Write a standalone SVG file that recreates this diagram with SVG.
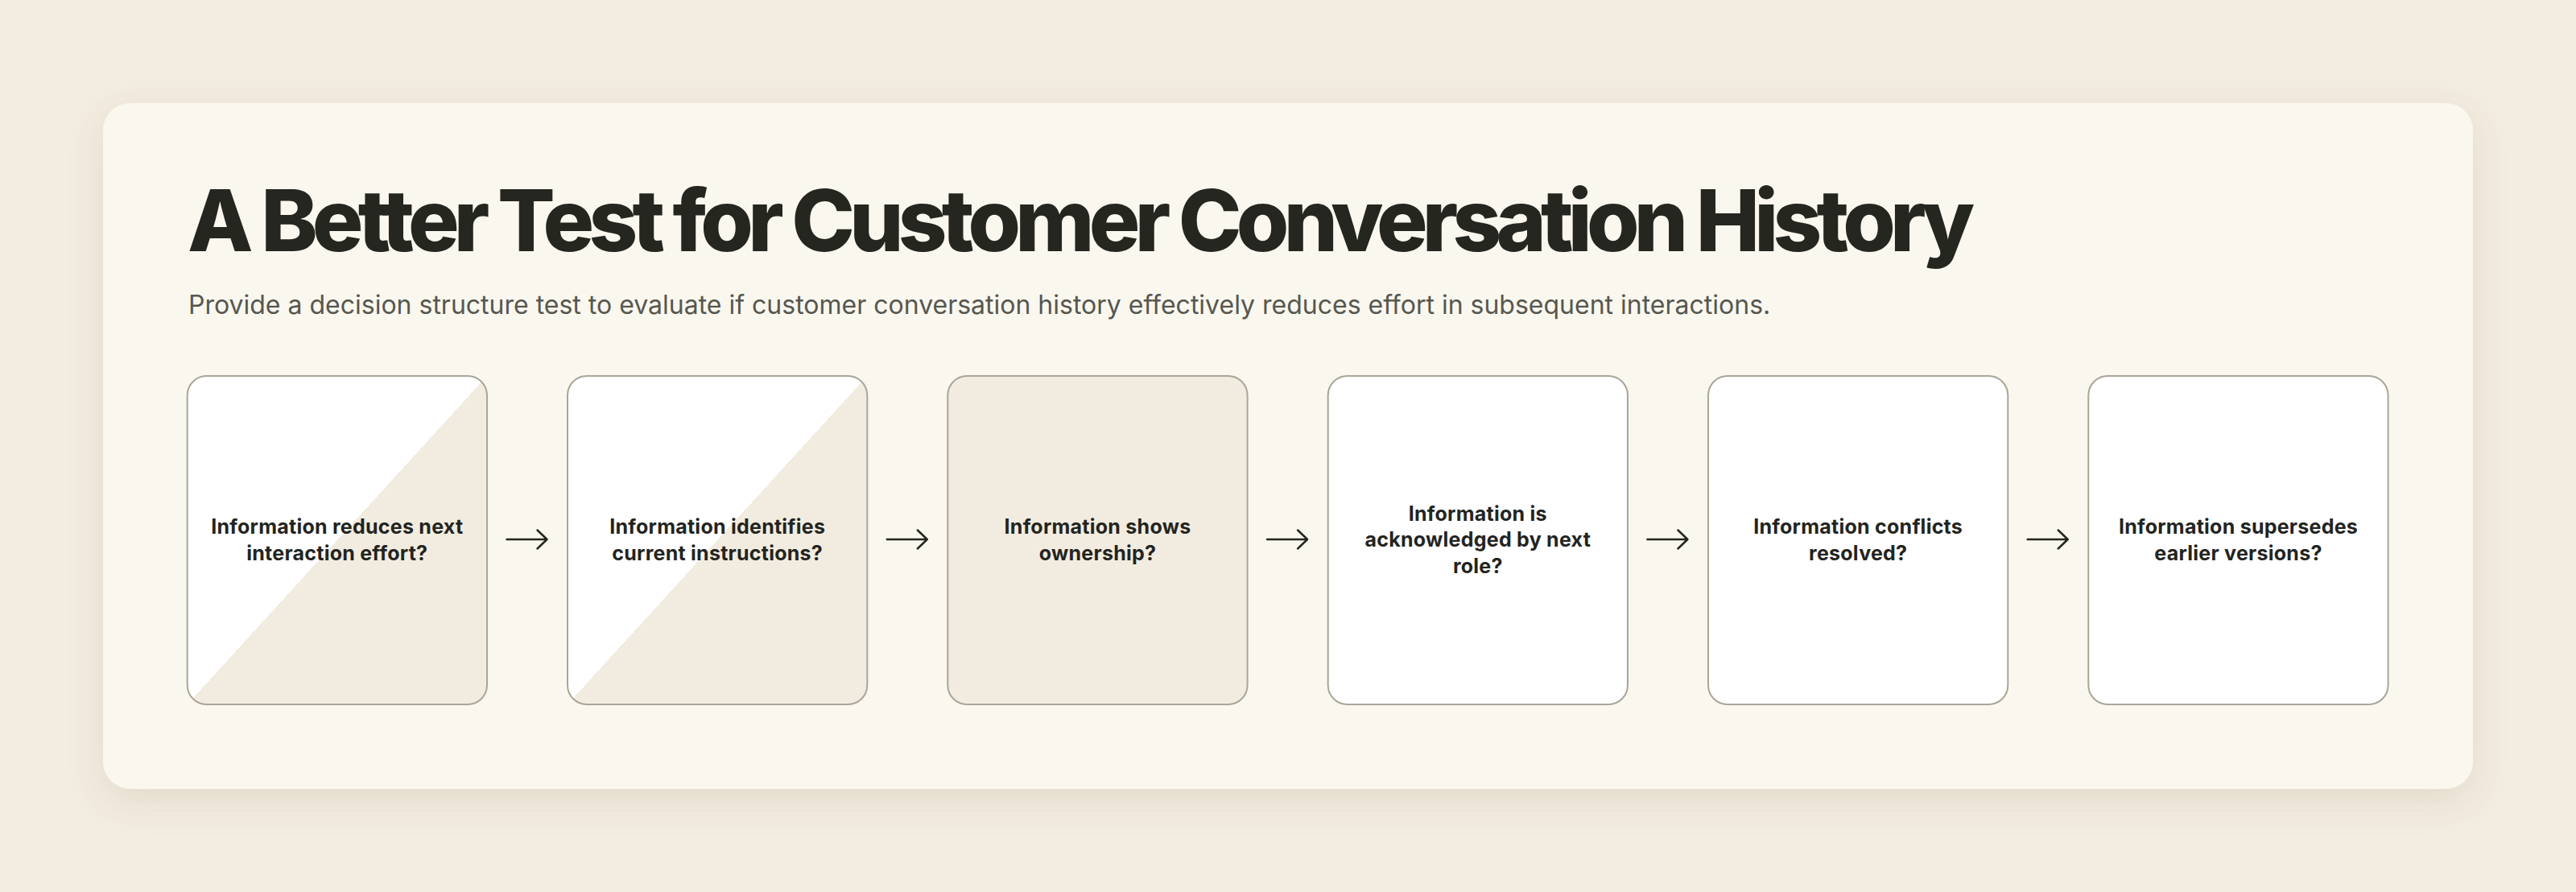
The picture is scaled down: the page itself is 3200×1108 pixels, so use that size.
<svg xmlns="http://www.w3.org/2000/svg" width="3200" height="1108" viewBox="0 0 3200 1108">
  <defs>
    <style>
      .title { font-family: Inter, "Liberation Sans", sans-serif; font-weight: 800; font-size: 106px; fill: #25261f; }
      .sub { font-family: Inter, "Liberation Sans", sans-serif; font-weight: 400; font-size: 32px; fill: #56574f; }
      .box { stroke: #a9a599; stroke-width: 2; }
      .lbl { font-family: Inter, "Liberation Sans", sans-serif; font-weight: 700; font-size: 25px; letter-spacing: 0.25px; fill: #23241f; text-anchor: middle; }
      .arrow { fill: none; stroke: #25261f; stroke-width: 2.5; stroke-linecap: round; stroke-linejoin: round; }
    </style>
    <linearGradient id="split" x1="0" y1="0" x2="1" y2="1">
      <stop offset="0.5" stop-color="#ffffff"/>
      <stop offset="0.5" stop-color="#f2ece0"/>
    </linearGradient>
    <filter id="shadow" x="-10%" y="-20%" width="120%" height="140%">
      <feDropShadow dx="0" dy="14" stdDeviation="22" flood-color="#7a6a48" flood-opacity="0.14"/>
    </filter>
  </defs>

  <rect x="0" y="0" width="3200" height="1108" fill="#f3ece0"/>
  <rect id="card" x="128" y="128" width="2944" height="852" rx="34" fill="#faf7ef" filter="url(#shadow)"/>

  <text class="title" x="233" y="311.5" textLength="2220" lengthAdjust="spacing">A Better Test for Customer Conversation History</text>
  <text class="sub" x="234" y="390">Provide a decision structure test to evaluate if customer conversation history effectively reduces effort in subsequent interactions.</text>

  <g id="connectors">
    <path class="arrow" d="M629.5 670 H679.5 M667.5 658.5 L679.5 670 L667.5 681.5"/>
    <path class="arrow" d="M1101.8 670 H1151.8 M1139.8 658.5 L1151.8 670 L1139.8 681.5"/>
    <path class="arrow" d="M1574.1 670 H1624.1 M1612.1 658.5 L1624.1 670 L1612.1 681.5"/>
    <path class="arrow" d="M2046.4 670 H2096.4 M2084.4 658.5 L2096.4 670 L2084.4 681.5"/>
    <path class="arrow" d="M2518.7 670 H2568.7 M2556.7 658.5 L2568.7 670 L2556.7 681.5"/>
  </g>

  <g id="node1">
    <rect class="box" x="232.7" y="467" width="372.3" height="408" rx="24" fill="url(#split)"/>
    <text class="lbl" x="418.8" y="663.2">Information reduces next</text>
    <text class="lbl" x="418.8" y="695.8">interaction effort?</text>
  </g>
  <g id="node2">
    <rect class="box" x="705" y="467" width="372.3" height="408" rx="24" fill="url(#split)"/>
    <text class="lbl" x="891.2" y="663.2">Information identifies</text>
    <text class="lbl" x="891.2" y="695.8">current instructions?</text>
  </g>
  <g id="node3">
    <rect class="box" x="1177.3" y="467" width="372.3" height="408" rx="24" fill="#f2ece0"/>
    <text class="lbl" x="1363.5" y="663.2">Information shows</text>
    <text class="lbl" x="1363.5" y="695.8">ownership?</text>
  </g>
  <g id="node4">
    <rect class="box" x="1649.7" y="467" width="372.3" height="408" rx="24" fill="#ffffff"/>
    <text class="lbl" x="1835.8" y="646.7">Information is</text>
    <text class="lbl" x="1835.8" y="679.3">acknowledged by next</text>
    <text class="lbl" x="1835.8" y="711.9">role?</text>
  </g>
  <g id="node5">
    <rect class="box" x="2122" y="467" width="372.3" height="408" rx="24" fill="#ffffff"/>
    <text class="lbl" x="2308.2" y="663.2">Information conflicts</text>
    <text class="lbl" x="2308.2" y="695.8">resolved?</text>
  </g>
  <g id="node6">
    <rect class="box" x="2594.3" y="467" width="372.3" height="408" rx="24" fill="#ffffff"/>
    <text class="lbl" x="2780.5" y="663.2">Information supersedes</text>
    <text class="lbl" x="2780.5" y="695.8">earlier versions?</text>
  </g>
</svg>
